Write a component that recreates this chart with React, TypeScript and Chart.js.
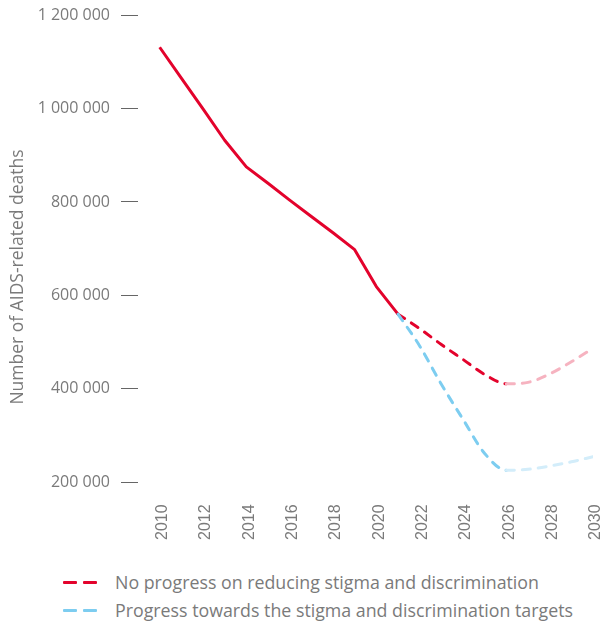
import React, { useEffect, useRef } from 'react';
import { Chart, registerables } from 'chart.js';

Chart.register(...registerables);

const historicalYears = [2010, 2011, 2012, 2013, 2014, 2015, 2016, 2017, 2018, 2019, 2020, 2021];
const historicalDeaths = [1131000, 1065000, 999000, 932000, 875000, 840000, 804000, 769000, 734000, 698000, 619000, 560000];

const projectionYears = [2021, 2022, 2023, 2024, 2025, 2026, 2027, 2028, 2029, 2030];
const noProgressDeaths = [560000, 529000, 495000, 463000, 431000, 411000, 414000, 432000, 458000, 487000];
const progressDeaths = [560000, 492000, 410000, 335000, 262000, 226000, 228000, 235000, 244000, 255000];

const xTickYears = [2010, 2012, 2014, 2016, 2018, 2020, 2022, 2024, 2026, 2028, 2030];
const yTickValues = [200000, 400000, 600000, 800000, 1000000, 1200000];
const fadeFromYear = 2026;

const yAxisTitle = 'Number of AIDS-related deaths';
const legendLabels = [
  'No progress on reducing stigma and discrimination',
  'Progress towards the stigma and discrimination targets',
];

const RED = '#e3032c';
const PINK = '#f6b3c0';
const BLUE = '#7dcdf0';
const PALE_BLUE = '#d3edfa';
const TEXT = '#7a7a7a';
const FONT = '"Open Sans", sans-serif';

const fmt = (v: number) => String(v).replace(/\B(?=(\d{3})+(?!\d))/g, ' ');

const titlePlugin = {
  id: 'yTitle',
  afterDraw(chart: any) {
    const { ctx } = chart;
    ctx.save();
    ctx.translate(18, 277);
    ctx.rotate(-Math.PI / 2);
    ctx.fillStyle = TEXT;
    ctx.font = `17.5px ${FONT}`;
    ctx.textAlign = 'center';
    ctx.textBaseline = 'middle';
    ctx.fillText(yAxisTitle, 0, 0);
    ctx.restore();
  },
};

export default function App() {
  const ref = useRef<HTMLCanvasElement | null>(null);

  useEffect(() => {
    if (!ref.current) return;
    const toPts = (xs: number[], ys: number[]) => xs.map((x, i) => ({ x, y: ys[i] }));
    const chart = new Chart(ref.current, {
      type: 'line',
      plugins: [titlePlugin],
      data: {
        datasets: [
          {
            label: legendLabels[1],
            data: toPts(projectionYears, progressDeaths),
            borderColor: BLUE,
            borderWidth: 3,
            borderDash: [8, 8],
            borderCapStyle: 'round',
            cubicInterpolationMode: 'monotone',
            pointRadius: 0,
            segment: {
              borderColor: (ctx: any) => (projectionYears[ctx.p0DataIndex] >= fadeFromYear ? PALE_BLUE : BLUE),
            },
          },
          {
            label: legendLabels[0],
            data: toPts(projectionYears, noProgressDeaths),
            borderColor: RED,
            borderWidth: 3,
            borderDash: [8, 8],
            borderCapStyle: 'round',
            cubicInterpolationMode: 'monotone',
            pointRadius: 0,
            segment: {
              borderColor: (ctx: any) => (projectionYears[ctx.p0DataIndex] >= fadeFromYear ? PINK : RED),
            },
          },
          {
            label: 'historical',
            data: toPts(historicalYears, historicalDeaths),
            borderColor: RED,
            borderWidth: 3,
            tension: 0,
            pointRadius: 0,
            borderJoinStyle: 'round',
          },
        ],
      },
      options: {
        animation: false,
        responsive: false,
        maintainAspectRatio: false,
        layout: { padding: { top: 15, right: 14, bottom: 0, left: 0 } },
        plugins: { legend: { display: false }, tooltip: { enabled: false } },
        scales: {
          x: {
            type: 'linear',
            min: 2009,
            max: 2030,
            grid: { display: false, drawTicks: false, tickLength: 0 },
            border: { display: false },
            afterBuildTicks: (scale: any) => {
              scale.ticks = xTickYears.map((v) => ({ value: v }));
            },
            afterFit: (scale: any) => {
              scale.paddingLeft = 0;
              scale.paddingRight = 0;
            },
            ticks: {
              minRotation: 90,
              maxRotation: 90,
              padding: 22,
              labelOffset: 3,
              autoSkip: false,
              color: TEXT,
              font: { family: '"Liberation Sans", Arial, sans-serif', size: 16 },
              callback: (v: any) => String(v),
            },
          },
          y: {
            min: 200000,
            max: 1200000,
            afterBuildTicks: (scale: any) => {
              scale.ticks = yTickValues.map((v) => ({ value: v }));
            },
            afterFit: (scale: any) => {
              scale.width = 138;
              scale.paddingTop = 0;
              scale.paddingBottom = 0;
            },
            grid: { drawOnChartArea: false, drawTicks: true, tickLength: 17, color: '#666666', lineWidth: 1 },
            border: { display: false },
            ticks: {
              padding: 11,
              color: TEXT,
              font: { family: FONT, size: 16 },
              callback: (v: any) => fmt(Number(v)),
            },
          },
        },
      },
    });
    return () => chart.destroy();
  }, []);

  const legendColors = [RED, BLUE];

  return (
    <div style={{ position: 'absolute', left: 0, top: 0, width: 607, height: 625, background: '#fff', overflow: 'hidden' }}>
      <canvas ref={ref} width={607} height={562} style={{ display: 'block', width: 607, height: 562 }} />
      <div style={{ position: 'absolute', left: 63, top: 568, fontFamily: FONT, fontSize: 17.8, color: TEXT }}>
        {legendLabels.map((lab, i) => (
          <div key={lab} style={{ display: 'flex', alignItems: 'center', height: 28 }}>
            <span style={{ display: 'inline-block', width: 14, height: 3, background: legendColors[i], borderRadius: 1 }} />
            <span style={{ display: 'inline-block', width: 14, height: 3, background: legendColors[i], marginLeft: 6, borderRadius: 1 }} />
            <span style={{ marginLeft: 18, whiteSpace: 'nowrap' }}>{lab}</span>
          </div>
        ))}
      </div>
    </div>
  );
}
